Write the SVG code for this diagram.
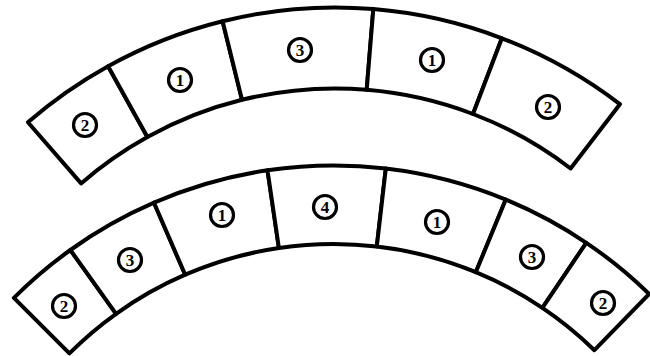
<svg xmlns="http://www.w3.org/2000/svg" width="650" height="356" viewBox="0 0 650 356">
<style>
.seg{fill:#fff;stroke:#000;stroke-width:4;stroke-linejoin:round}
.lc{fill:#fff;stroke:#000;stroke-width:3.2}
.lt{font-family:"Liberation Serif",serif;font-weight:bold;font-size:17px;text-anchor:middle;dominant-baseline:central;fill:#000}
</style>
<rect width="650" height="356" fill="#fff"/>
<g id="top-arc">
<g id="t1">
<path class="seg" d="M27.9,122.3 A468,468 0 0 1 108.1,66.2 L147.4,137 A387,387 0 0 0 81.1,183.4 Z"/>
<circle class="lc" cx="85" cy="125" r="11.5"/><text class="lt" x="85" y="125">2</text>
</g>
<g id="t2">
<path class="seg" d="M108.1,66.2 A468,468 0 0 1 222.6,21.2 L242,99.8 A387,387 0 0 0 147.4,137 Z"/>
<circle class="lc" cx="180" cy="80" r="11.5"/><text class="lt" x="180" y="80">1</text>
</g>
<g id="t3">
<path class="seg" d="M222.6,21.2 A468,468 0 0 1 373.3,9.1 L366.7,89.8 A387,387 0 0 0 242,99.8 Z"/>
<circle class="lc" cx="300" cy="50" r="11.5"/><text class="lt" x="300" y="50">3</text>
</g>
<g id="t4">
<path class="seg" d="M373.3,9.1 A468,468 0 0 1 501.9,38.3 L473,114 A387,387 0 0 0 366.7,89.8 Z"/>
<circle class="lc" cx="432" cy="60" r="11.5"/><text class="lt" x="432" y="60">1</text>
</g>
<g id="t5">
<path class="seg" d="M501.9,38.3 A468,468 0 0 1 619.9,104.2 L570.6,168.5 A387,387 0 0 0 473,114 Z"/>
<circle class="lc" cx="548" cy="107" r="11.5"/><text class="lt" x="548" y="107">2</text>
</g>
</g>
<g id="bottom-arc">
<g id="b1">
<path class="seg" d="M13.9,297.9 A452,452 0 0 1 70.4,250 L116.1,313.8 A373.5,373.5 0 0 0 69.4,353.4 Z"/>
<circle class="lc" cx="64" cy="306" r="11.5"/><text class="lt" x="64" y="306">2</text>
</g>
<g id="b2">
<path class="seg" d="M70.4,250 A452,452 0 0 1 154,202.7 L185.2,274.7 A373.5,373.5 0 0 0 116.1,313.8 Z"/>
<circle class="lc" cx="130" cy="260" r="11.5"/><text class="lt" x="130" y="260">3</text>
</g>
<g id="b3">
<path class="seg" d="M154,202.7 A452,452 0 0 1 267.5,170.3 L278.9,248 A373.5,373.5 0 0 0 185.2,274.7 Z"/>
<circle class="lc" cx="222" cy="215" r="11.5"/><text class="lt" x="222" y="215">1</text>
</g>
<g id="b4">
<path class="seg" d="M267.5,170.3 A452,452 0 0 1 385.8,168.5 L376.8,246.5 A373.5,373.5 0 0 0 278.9,248 Z"/>
<circle class="lc" cx="325" cy="207" r="11.5"/><text class="lt" x="325" y="207">4</text>
</g>
<g id="b5">
<path class="seg" d="M385.8,168.5 A452,452 0 0 1 505.8,199.6 L475.8,272.2 A373.5,373.5 0 0 0 376.8,246.5 Z"/>
<circle class="lc" cx="437" cy="222" r="11.5"/><text class="lt" x="437" y="222">1</text>
</g>
<g id="b6">
<path class="seg" d="M505.8,199.6 A452,452 0 0 1 586.3,242.8 L542.4,307.9 A373.5,373.5 0 0 0 475.8,272.2 Z"/>
<circle class="lc" cx="532" cy="257" r="11.5"/><text class="lt" x="532" y="257">3</text>
</g>
<g id="b7">
<path class="seg" d="M586.3,242.8 A452,452 0 0 1 649.2,294 L594.4,350.2 A373.5,373.5 0 0 0 542.4,307.9 Z"/>
<circle class="lc" cx="603" cy="303" r="11.5"/><text class="lt" x="603" y="303">2</text>
</g>
</g>
</svg>
